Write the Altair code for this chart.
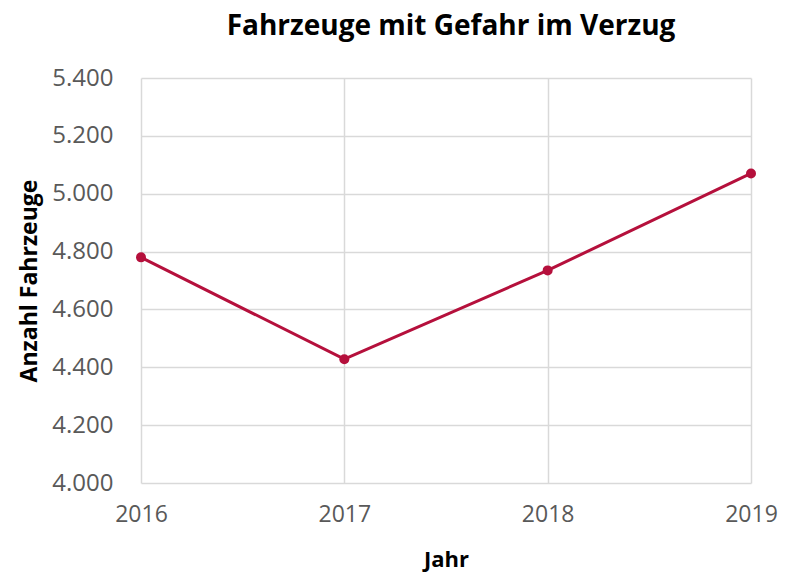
import altair as alt
import pandas as pd

years = [2016, 2017, 2018, 2019]
values = [4780, 4428, 4735, 5070]

df = pd.DataFrame({"Jahr": years, "Anzahl": values})

FONT = "Open Sans"
COLOR = "#B5103C"

base = alt.Chart(df).encode(
    x=alt.X("Jahr:Q",
            scale=alt.Scale(domain=[2016, 2019], nice=False, zero=False),
            axis=alt.Axis(values=years, format="d", title="Jahr",
                          labelFontSize=23, labelColor="#595959", labelFont=FONT,
                          labelPadding=20, ticks=False, domain=False,
                          gridColor="#D9D9D9", gridWidth=1.5,
                          titleFont=FONT, titleFontSize=22, titleFontWeight="bold",
                          titleColor="#000000", titlePadding=23,
                          labelFlush=False)),
    y=alt.Y("Anzahl:Q",
            scale=alt.Scale(domain=[4000, 5400], nice=False, zero=False),
            axis=alt.Axis(values=[4000, 4200, 4400, 4600, 4800, 5000, 5200, 5400],
                          labelExpr="replace(format(datum.value, ',.0f'), ',', '.')",
                          title="Anzahl Fahrzeuge",
                          labelFontSize=24, labelColor="#595959", labelFont=FONT,
                          labelPadding=28, ticks=False, domain=False,
                          gridColor="#D9D9D9", gridWidth=1.5,
                          titleFont=FONT, titleFontSize=23, titleFontWeight="bold",
                          titleColor="#000000", titlePadding=10)),
)

line = base.mark_line(color=COLOR, strokeWidth=3)
pts = base.mark_point(color=COLOR, filled=True, opacity=1, size=100)

chart = (line + pts).properties(
    width=610, height=405,
    title=alt.TitleParams("Fahrzeuge mit Gefahr im Verzug", font=FONT, fontSize=28,
                          fontWeight="bold", color="#000000", offset=25, dx=5,
                          anchor="middle"),
    autosize=alt.AutoSizeParams(type="none"),
    padding={"left": 133, "top": 70, "right": 27, "bottom": 90},
).configure_view(stroke=None)

chart.save("out.html", embed_options={"renderer": "svg", "actions": False})
